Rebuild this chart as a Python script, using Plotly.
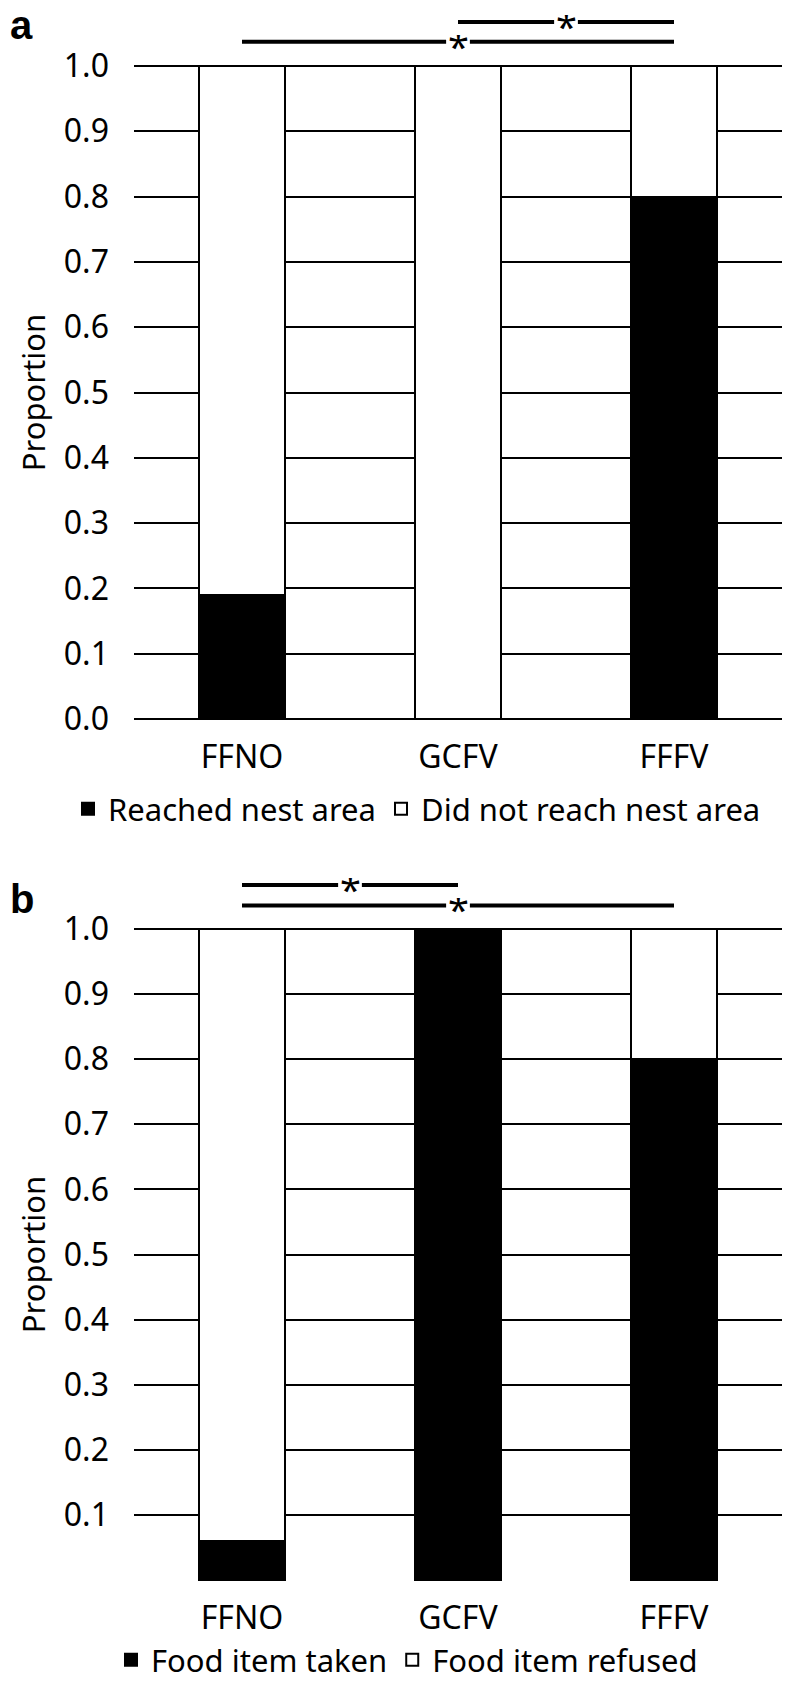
import plotly.graph_objects as go

categories = ["FFNO", "GCFV", "FFFV"]

# Panel a
a_reached = [0.19, 0.0, 0.80]
a_not_reached = [0.81, 1.0, 0.20]
a_names = ["Reached nest area", "Did not reach nest area"]
# (from category index, to category index, height as fraction of plot height)
a_comparisons = [(1, 2, 1.064), (0, 2, 1.034)]

# Panel b
b_taken = [0.06, 1.0, 0.80]
b_refused = [0.94, 0.0, 0.20]
b_names = ["Food item taken", "Food item refused"]
b_comparisons = [(0, 1, 1.064), (0, 2, 1.033)]

# the page body has an 8px margin, so the figure is placed at (8, 8)
OFF = 8
W, H = 790 - 2 * OFF, 1695 - 2 * OFF
FONT = "Noto Sans"

def fx(px):
    return (px - OFF) / W

def fy(py):
    return 1 - (py - OFF) / H

fig = go.Figure()

bar_common = dict(width=0.4, marker_line_color="black", marker_line_width=2)

fig.add_trace(go.Bar(x=categories, y=a_reached, name=a_names[0], marker_color="black",
                     xaxis="x", yaxis="y", legend="legend", **bar_common))
fig.add_trace(go.Bar(x=categories, y=a_not_reached, name=a_names[1], marker_color="white",
                     xaxis="x", yaxis="y", legend="legend", **bar_common))
fig.add_trace(go.Bar(x=categories, y=b_taken, name=b_names[0], marker_color="black",
                     xaxis="x2", yaxis="y2", legend="legend2", **bar_common))
fig.add_trace(go.Bar(x=categories, y=b_refused, name=b_names[1], marker_color="white",
                     xaxis="x2", yaxis="y2", legend="legend2", **bar_common))

xdom = [fx(134), 1.0]
ya_dom = [fy(721), fy(64)]
yb_dom = [fy(1582), fy(927)]

axis_font = dict(family=FONT, size=32, color="black")

xcommon = dict(showgrid=False, showline=False, ticks="", tickfont=axis_font,
               ticklabelstandoff=14, domain=xdom, range=[-0.5, 2.5], automargin=False)
ycommon = dict(range=[-0.003, 1.003], showgrid=True, gridcolor="black", gridwidth=2,
               zeroline=False, showline=False, ticks="", tickfont=axis_font,
               tickformat=".1f", ticklabelstandoff=24, automargin=False,
               title=dict(text="Proportion", font=dict(family=FONT, size=31, color="black"),
                          standoff=8))

legend_font = dict(family=FONT, size=31, color="black")

fig.update_layout(
    width=W, height=H,
    margin=dict(l=0, r=0, t=0, b=0, autoexpand=False),
    paper_bgcolor="white", plot_bgcolor="white",
    barmode="stack",
    font=dict(family=FONT, color="black"),
    xaxis=dict(anchor="y", **xcommon),
    yaxis=dict(domain=ya_dom, anchor="x", tickvals=[i / 10 for i in range(0, 11)], **ycommon),
    xaxis2=dict(anchor="y2", **xcommon),
    yaxis2=dict(domain=yb_dom, anchor="x2", tickvals=[i / 10 for i in range(1, 11)], **ycommon),
    legend=dict(orientation="h", x=fx(417), xanchor="center", y=fy(809), yanchor="middle",
                font=legend_font, bgcolor="rgba(0,0,0,0)", traceorder="normal"),
    legend2=dict(orientation="h", x=fx(407), xanchor="center", y=0, yanchor="bottom",
                 font=legend_font, bgcolor="rgba(0,0,0,0)", traceorder="normal"),
)

GAP = 0.055
shapes = []
annotations = []
for comps, xr, yr in [(a_comparisons, "x", "y domain"), (b_comparisons, "x2", "y2 domain")]:
    for i0, i1, yv in comps:
        mid = (i0 + i1) / 2
        for s0, s1 in [(i0, mid - GAP), (mid + GAP, i1)]:
            shapes.append(dict(type="line", xref=xr, yref=yr, x0=s0, x1=s1, y0=yv, y1=yv,
                               line=dict(color="black", width=4)))
        annotations.append(dict(xref=xr, yref=yr, x=mid, y=yv, text="*",
                                showarrow=False, borderpad=0, height=22,
                                font=dict(family=FONT, size=38, color="black"),
                                yanchor="middle", xanchor="center", yshift=-4))

annotations.append(dict(xref="paper", yref="paper", x=0, y=fy(25), text="<b>a</b>",
                        showarrow=False, font=dict(family="Liberation Sans", size=40, color="black"),
                        xanchor="left", yanchor="middle", height=30))
annotations.append(dict(xref="paper", yref="paper", x=0, y=fy(899), text="<b>b</b>",
                        showarrow=False, font=dict(family="Liberation Sans", size=40, color="black"),
                        xanchor="left", yanchor="middle"))

fig.update_layout(shapes=shapes, annotations=annotations)

fig.write_html("out.html")
